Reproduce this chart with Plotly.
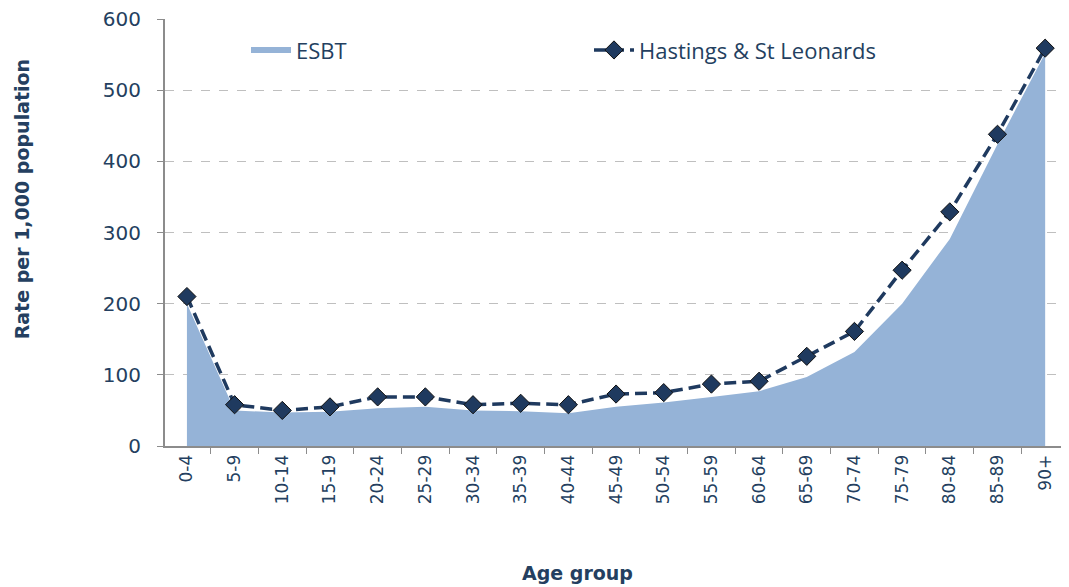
import plotly.graph_objects as go

age_groups = ["0-4", "5-9", "10-14", "15-19", "20-24", "25-29", "30-34", "35-39", "40-44",
              "45-49", "50-54", "55-59", "60-64", "65-69", "70-74", "75-79", "80-84", "85-89", "90+"]
esbt = [200, 50, 47, 48, 53, 55, 50, 49, 46, 55, 61, 69, 77, 97, 132, 200, 291, 424, 552]
hastings = [210, 58, 50, 55, 69, 69, 58, 60, 58, 73, 75, 87, 91, 126, 161, 247, 329, 438, 559]
y_ticks = [0, 100, 200, 300, 400, 500, 600]

text_col = "#243F60"
fig = go.Figure()
fig.add_trace(go.Scatter(
    x=age_groups, y=esbt, name="ESBT", mode="none", fill="tozeroy",
    fillcolor="#95B3D7"))
fig.add_trace(go.Scatter(
    x=age_groups, y=hastings, name="Hastings & St Leonards", mode="lines+markers",
    line=dict(color="#1F3A5F", width=3.5, dash="12px,6px"),
    marker=dict(symbol="diamond", size=14, color="#1F3A5F", line=dict(color="#111", width=1))))

# page body has an 8px default margin, so the figure is sized/offset to compensate
fig.update_layout(
    width=1061, height=579,
    margin=dict(l=157, r=0, t=11, b=141, autoexpand=False),
    paper_bgcolor="white", plot_bgcolor="white",
    font=dict(family="DejaVu Sans", size=15, color=text_col),
    legend=dict(orientation="h", x=0.0896, y=0.927, xanchor="left", yanchor="middle",
                bgcolor="rgba(0,0,0,0)", entrywidth=288, itemwidth=40,
                font=dict(family="Open Sans", size=22, color=text_col)),
    showlegend=True,
    annotations=[
        dict(text="<b>Age group</b>", x=0.456, y=-0.297, xref="paper", yref="paper",
             showarrow=False, xanchor="center", yanchor="middle",
             font=dict(family="DejaVu Sans", size=19, color=text_col)),
        dict(text="<b>Rate per 1,000 population</b>", x=-0.158, y=0.578, xref="paper", yref="paper",
             showarrow=False, xanchor="center", yanchor="middle", textangle=-90,
             font=dict(family="DejaVu Sans", size=19, color=text_col)),
    ],
)
fig.update_xaxes(
    type="category", range=[-0.46, 18.5], tickangle=-90, automargin=False,
    showline=True, linecolor="#8C8C8C", linewidth=2, ticklabeloverflow="allow",
    ticks="outside", ticklen=6, tickcolor="#8C8C8C", tickson="boundaries",
    showgrid=False, tickfont=dict(size=17, family="DejaVu Sans", color=text_col),
)
fig.update_yaxes(
    range=[0, 600], tickvals=y_ticks, showline=True, linecolor="#8C8C8C", linewidth=2,
    automargin=False, ticks="outside", ticklen=6, tickcolor="#8C8C8C", ticklabelstandoff=12,
    ticklabeloverflow="allow",
    showgrid=True, gridcolor="#BFBFBF", griddash="dash", gridwidth=1,
    zeroline=False, tickfont=dict(size=20, family="DejaVu Sans", color=text_col),
)

fig.write_html("out.html")
